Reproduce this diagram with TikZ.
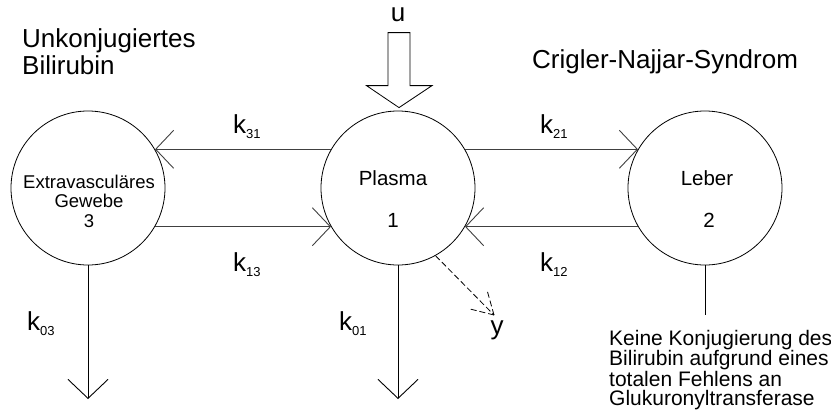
\documentclass[tikz,border=0pt]{standalone}
\usepackage{fontspec}
\setmainfont{Liberation Sans}
\usetikzlibrary{arrows.meta,calc}
\newcommand\kk[1]{k\raisebox{-5pt}{\fontsize{13}{13}\selectfont #1}}
\begin{document}
\begin{tikzpicture}[x=1pt,y=-1pt,
  state/.style={circle,draw=black,line width=0.8pt,minimum size=154pt,inner sep=0pt},
  flow/.style={draw=black!75,line width=0.9pt,-{Straight Barb[length=18pt,width=38pt,line width=0.9pt]}},
  outflow/.style={draw=black,line width=0.9pt,-{Straight Barb[length=19pt,width=40pt,line width=0.9pt]}},
  klab/.style={anchor=base west,inner sep=0pt,font=\fontsize{26}{28}\selectfont},
  ctext/.style={anchor=base,inner sep=0pt,font=\fontsize{20.5}{22}\selectfont},
  big/.style={inner sep=0pt,font=\fontsize{26}{27}\selectfont},
  note/.style={inner sep=0pt,align=left,font=\fontsize{21}{19.3}\selectfont}]
\useasboundingbox (0,0) rectangle (831,413);
% compartments
\node[state] (c3) at (88,188) {};
\node[state] (c1) at (398,188) {};
\node[state] (c2) at (705,188) {};
% compartment texts
\node[inner sep=0pt,anchor=north,align=center,font=\fontsize{18.5}{19.5}\selectfont] (t3) at ($(c3)+(1,-13.5)$) {Extravasculäres\\Gewebe\\3};
\node[ctext] (t1a) at ($(c1)+(-5,-3)$) {Plasma};
\node[ctext] (t1b) at ($(c1)+(-5,39)$) {1};
\node[ctext] (t2a) at ($(c2)+(2,-3)$) {Leber};
\node[ctext] (t2b) at ($(c2)+(4,39)$) {2};
% exchanges
\draw[flow] (c1.150) -- (c3.30);
\draw[flow] (c3.-30) -- (c1.-150);
\draw[flow] (c1.30) -- (c2.150);
\draw[flow] (c2.-150) -- (c1.-30);
% rate labels
\node[klab] (k31) at (233,133) {\kk{31}};
\node[klab] (k13) at (233,271) {\kk{13}};
\node[klab] (k21) at (540,133) {\kk{21}};
\node[klab] (k12) at (540,271) {\kk{12}};
\node[klab] (k03) at (27,330) {\kk{03}};
\node[klab] (k01) at (339,330) {\kk{01}};
% outflows
\coordinate (e3) at (88,399);
\coordinate (e1) at (398,399);
\coordinate (e2) at (705,315);
\draw[outflow] (c3.south) -- (e3);
\draw[outflow] (c1.south) -- (e1);
\draw[black,line width=0.9pt] (c2.south) -- (e2);
% measurement y
\coordinate (ye) at (494,315);
\draw[black,line width=0.8pt,dash pattern=on 6pt off 3pt] (c1.-61.5) -- (ye);
\draw[black,line width=0.8pt,dash pattern=on 6pt off 3pt] (ye) -- ++(-7,-25);
\draw[black,line width=0.8pt,dash pattern=on 6pt off 3pt] (ye) -- ++(-24,-6);
\node[inner sep=0pt,anchor=base,font=\fontsize{26}{27}\selectfont] (ylab) at (497,334) {y};
% input u
\draw[black,line width=0.8pt] ($(c1.north)+(1,-3)$) -- ++(-32.5,-22) -- ++(21.5,0) -- ++(0,-53) -- ++(22,0) -- ++(0,53) -- ++(22,0) -- cycle;
\node[inner sep=0pt,anchor=base,font=\fontsize{26}{27}\selectfont] (ulab) at (398,21) {u};
% titles
\node[big,anchor=north west,align=left] (title1) at (22,28) {Unkonjugiertes\\Bilirubin};
\node[big,anchor=base west] (title2) at (532,68) {Crigler-Najjar-Syndrom};
\node[note,anchor=north west] (note) at (609,330) {Keine Konjugierung des\\Bilirubin aufgrund eines\\totalen Fehlens an\\Glukuronyltransferase};
\end{tikzpicture}
\end{document}
